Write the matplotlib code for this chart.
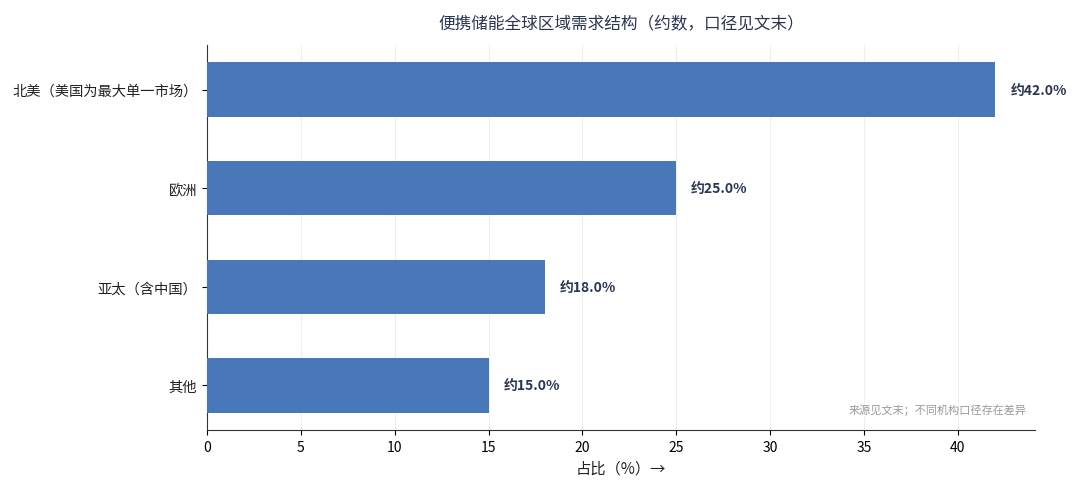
import matplotlib.pyplot as plt

plt.rcParams['font.family'] = ['Noto Sans CJK SC', 'DejaVu Sans']

regions = ['北美（美国为最大单一市场）', '欧洲', '亚太（含中国）', '其他']
shares = [42.0, 25.0, 18.0, 15.0]

fig = plt.figure(figsize=(10.8, 4.89), dpi=100)
ax = fig.add_axes([0.1917, 0.1186, 0.7663, 0.7874])

ypos = list(range(len(regions)))[::-1]
ax.barh(ypos, shares, height=0.55, color='#4878b8', zorder=3)
for y, v in zip(ypos, shares):
    ax.text(v + 0.8, y, f'约{v:.1f}%', va='center', ha='left',
            fontsize=10, fontweight='bold', color='#2a3550')

ax.set_yticks(ypos)
ax.set_yticklabels(regions, fontsize=10.3, color='#222222')
ax.set_xlim(0, 44.1)
ax.set_xticks(range(0, 45, 5))
ax.tick_params(axis='x', labelsize=10)
ax.set_xlabel('占比（%）→', fontsize=11, color='#222222')
ax.set_title('便携储能全球区域需求结构（约数，口径见文末）', fontsize=12,
             color='#2a3550', pad=12)

ax.grid(axis='x', color='#eeeeee', linewidth=0.8, zorder=0)
ax.spines['top'].set_visible(False)
ax.spines['right'].set_visible(False)
ax.spines['left'].set_color('#333333')
ax.spines['bottom'].set_color('#333333')

ax.text(0.99, 0.04, '来源见文末；不同机构口径存在差异', transform=ax.transAxes,
        ha='right', va='bottom', fontsize=8, color='#999999')

fig.savefig('out.png', dpi=100)
